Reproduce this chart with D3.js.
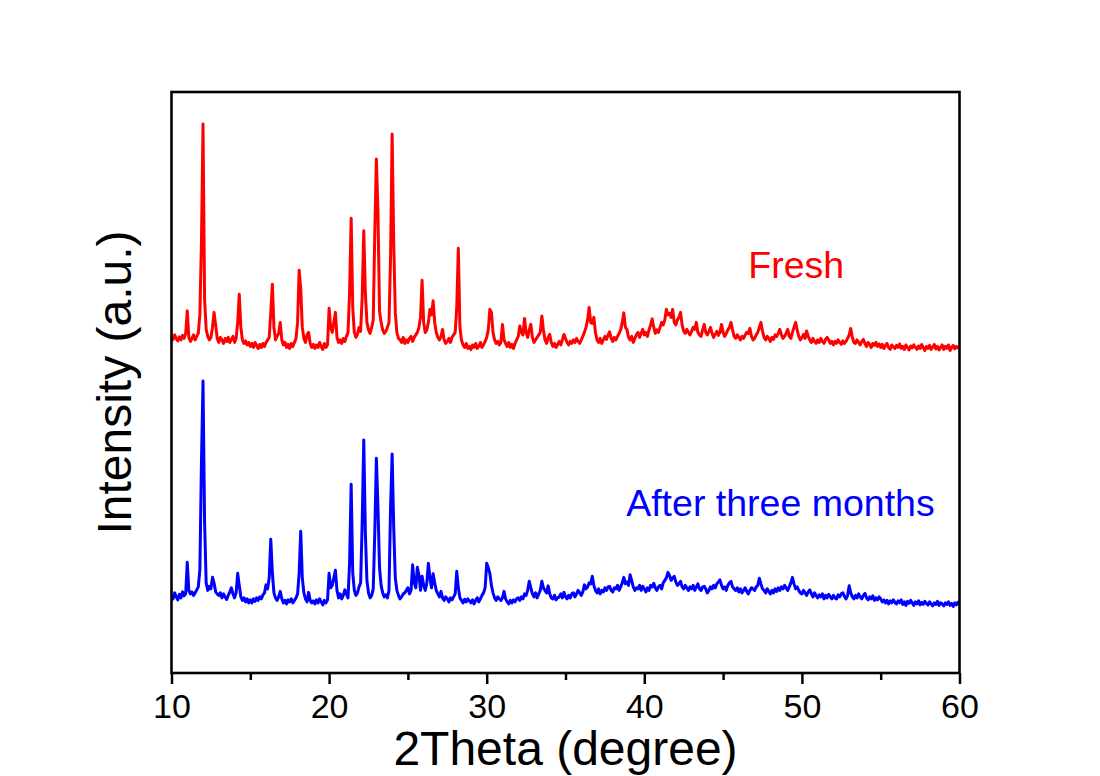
<!DOCTYPE html>
<html>
<head>
<meta charset="utf-8">
<script src="https://cdn.jsdelivr.net/npm/d3@7"></script>
<style>
  html, body { margin: 0; padding: 0; background: #ffffff; }
  svg { display: block; font-family: "Liberation Sans", Arial, sans-serif; }
</style>
</head>
<body>
<svg id="chart" width="1100" height="776"></svg>
<script>
// XRD patterns, sampled every 0.1 degree from 10.0 to 60.0 (2θ), intensity in a.u.
const twoThetaStart = 10.0;
const twoThetaStep = 0.1;

const freshIntensity = [
  172,166,175,168,163,171,165,174,168,178,
  223,170,162,168,175,165,172,178,216,360,
  596,246,186,172,165,170,190,220,195,168,
  160,170,165,158,168,162,170,160,166,172,
  160,168,200,256,190,165,158,163,155,160,
  152,158,150,160,154,148,156,150,158,152,
  160,165,170,220,276,190,165,172,178,200,
  165,155,160,150,156,148,158,152,160,168,
  200,304,266,190,168,160,175,180,158,150,
  156,148,155,150,160,152,146,158,150,156,
  228,190,180,200,220,170,160,165,158,168,
  162,172,180,260,408,230,180,170,176,190,
  182,250,383,260,200,185,178,190,205,380,
  526,420,222,200,185,178,182,190,200,330,
  576,360,220,180,168,165,160,170,158,165,
  160,168,172,162,170,175,180,190,210,284,
  200,180,185,200,226,215,243,200,180,170,
  165,172,186,165,158,162,168,160,170,175,
  180,230,348,190,165,155,150,158,148,152,
  146,155,150,158,148,152,160,150,155,162,
  170,185,226,220,180,165,158,162,155,160,
  196,165,158,152,160,150,156,148,158,165,
  172,193,180,175,208,180,170,185,196,170,
  160,165,170,175,180,213,185,165,158,170,
  176,160,152,158,150,156,162,155,165,176,
  168,160,155,162,158,165,160,168,162,158,
  165,172,180,190,205,230,200,198,210,180,
  165,160,168,158,165,172,166,175,181,168,
  162,170,165,172,178,185,200,219,190,186,
  170,165,172,160,168,175,180,170,178,186,
  175,180,172,185,195,207,190,178,185,180,
  190,200,195,205,226,215,218,210,226,200,
  195,205,210,220,195,182,178,186,180,175,
  182,190,186,200,180,175,172,185,196,180,
  175,182,190,178,170,176,182,174,180,196,
  180,172,178,185,190,200,185,172,168,175,
  170,165,172,168,175,180,178,188,172,165,
  168,175,180,190,200,182,170,165,172,168,
  162,170,166,175,172,178,186,175,168,172,
  178,186,172,168,180,190,200,185,172,165,
  170,176,168,183,172,165,160,168,162,158,
  165,160,168,162,158,166,170,165,158,162,
  155,162,158,165,160,156,163,158,162,168,
  175,188,170,160,158,165,160,155,162,166,
  158,152,160,156,150,158,154,160,152,157,
  150,156,148,154,158,150,146,155,151,148,
  154,150,157,148,152,146,155,150,145,153,
  149,155,150,146,153,148,156,150,144,152,
  148,154,146,151,156,147,152,145,150,155,
  146,152,148,155,144,150,154,147,152,149,
  151
];

const agedIntensity = [
  155,148,160,152,146,157,150,162,154,158,
  221,165,158,162,155,160,166,172,206,420,
  583,300,180,165,173,168,191,180,162,158,
  155,160,150,158,152,147,155,162,170,158,
  150,160,199,175,152,145,150,142,148,140,
  146,140,148,143,150,145,152,148,156,160,
  176,168,190,267,200,160,150,145,152,163,
  148,140,145,138,146,142,148,140,145,150,
  158,200,283,190,160,148,142,161,145,140,
  144,138,146,140,148,142,136,145,140,146,
  199,170,175,190,205,165,150,158,148,155,
  166,158,150,220,377,200,165,155,160,172,
  180,300,465,280,185,160,150,155,168,280,
  429,330,210,175,160,152,156,150,165,330,
  437,290,190,165,155,148,152,158,160,165,
  170,158,165,216,180,170,211,195,165,193,
  175,165,180,219,190,170,198,180,165,158,
  152,163,150,145,152,148,142,150,146,152,
  158,203,170,150,145,140,147,142,148,144,
  140,146,138,145,150,142,148,155,160,170,
  219,210,199,175,160,150,145,152,148,145,
  150,163,148,142,138,145,140,146,142,148,
  150,145,152,148,158,155,165,183,170,158,
  152,160,150,158,165,183,170,165,160,174,
  158,150,148,155,146,150,152,158,150,161,
  152,148,155,150,158,160,152,158,165,160,
  155,162,176,168,172,180,178,193,175,165,
  160,168,158,165,162,170,165,172,173,165,
  162,170,168,175,165,172,180,191,178,182,
  175,196,185,172,165,170,168,175,165,173,
  168,162,170,165,175,172,179,170,165,172,
  175,168,180,185,190,201,195,185,190,193,
  182,175,178,183,172,168,175,170,165,172,
  168,175,165,172,178,168,165,172,173,168,
  160,165,172,168,175,170,178,182,186,175,
  168,172,165,175,180,183,172,168,165,170,
  162,168,160,165,170,163,158,165,170,168,
  165,172,175,189,178,168,165,160,168,163,
  158,165,160,168,163,170,165,172,168,175,
  170,165,172,180,191,178,168,172,165,160,
  158,165,160,155,162,166,158,152,160,155,
  150,156,152,158,148,155,150,157,152,148,
  155,150,148,156,152,158,160,153,148,155,
  174,160,152,148,155,150,158,152,148,155,
  159,150,146,152,148,154,145,150,146,152,
  148,142,146,140,145,138,144,140,146,141,
  138,144,140,146,137,142,135,143,139,145,
  140,135,142,138,144,136,141,137,143,139,
  136,142,138,134,140,137,143,135,140,138,
  134,140,137,142,135,139,133,140,136,141,
  137
];

// Vertical stacking offset for the upper pattern
const freshOffset = 500;

const seriesNames = ["Fresh", "After three months"];
const seriesColors = ["#ff0000", "#0000ff"];

const xMajorTicks = [10, 20, 30, 40, 50, 60];
const xMinorTicks = [15, 25, 35, 45, 55];
const xDomain = [10, 60];
const yDomain = [0, 1160];

const svg = d3.select("#chart");
const margin = { left: 171.5, right: 140.5, top: 92, bottom: 103 };
const W = 1100, H = 776;
const plotW = W - margin.left - margin.right;
const plotH = H - margin.top - margin.bottom;

const x = d3.scaleLinear().domain(xDomain).range([margin.left, margin.left + plotW]);
const y = d3.scaleLinear().domain(yDomain).range([margin.top + plotH, margin.top]);

svg.append("rect").attr("width", W).attr("height", H).attr("fill", "#ffffff");

const toPoints = (vals, offset) =>
  vals.map((v, i) => ({ t: twoThetaStart + i * twoThetaStep, v: v + offset }));

const datasets = [
  toPoints(freshIntensity, freshOffset),
  toPoints(agedIntensity, 0)
];

const line = d3.line()
  .x(d => x(d.t))
  .y(d => y(d.v));

svg.append("defs").append("clipPath").attr("id", "plotClip")
  .append("rect")
  .attr("x", margin.left).attr("y", margin.top)
  .attr("width", plotW).attr("height", plotH);

const lines = svg.append("g").attr("clip-path", "url(#plotClip)");
datasets.forEach((pts, i) => {
  lines.append("path")
    .datum(pts)
    .attr("fill", "none")
    .attr("stroke", seriesColors[i])
    .attr("stroke-width", 3)
    .attr("stroke-linejoin", "round")
    .attr("d", line);
});

// Bottom axis: major and minor ticks pointing outward
const axisG = svg.append("g")
  .attr("transform", `translate(0,${margin.top + plotH})`);

const minorAxis = d3.axisBottom(x).tickValues(xMinorTicks).tickSize(7).tickFormat("");
const majorAxis = d3.axisBottom(x).tickValues(xMajorTicks).tickSize(11).tickPadding(10)
  .tickFormat(d3.format("d"));

axisG.append("g").call(minorAxis)
  .call(g => g.select(".domain").remove())
  .call(g => g.selectAll("line").attr("stroke", "#000").attr("stroke-width", 2.5));

axisG.append("g").call(majorAxis)
  .call(g => g.select(".domain").remove())
  .call(g => g.selectAll("line").attr("stroke", "#000").attr("stroke-width", 2.5))
  .call(g => g.selectAll("text")
    .attr("fill", "#000")
    .style("font-size", "34px")
    .style("font-family", "'Liberation Sans', Arial, sans-serif"));

// Plot frame
svg.append("rect")
  .attr("x", margin.left).attr("y", margin.top)
  .attr("width", plotW).attr("height", plotH)
  .attr("fill", "none")
  .attr("stroke", "#000")
  .attr("stroke-width", 2.6);

// Axis titles
svg.append("text")
  .attr("x", margin.left + plotW / 2)
  .attr("y", 765)
  .attr("text-anchor", "middle")
  .style("font-size", "48px")
  .attr("fill", "#000")
  .text("2Theta (degree)");

svg.append("text")
  .attr("transform", `translate(131,${margin.top + plotH / 2}) rotate(-90)`)
  .attr("text-anchor", "middle")
  .style("font-size", "48px")
  .attr("fill", "#000")
  .text("Intensity (a.u.)");

// Series labels
const labelPos = [
  { t: 46.6, v: freshOffset + 1346 - 2 * 279 - 500 },
  { t: 38.85, v: 1346 - 2 * 516 }
];
seriesNames.forEach((name, i) => {
  svg.append("text")
    .attr("x", x(labelPos[i].t))
    .attr("y", y(labelPos[i].v))
    .style("font-size", "37.5px")
    .attr("fill", seriesColors[i])
    .text(name);
});
</script>
</body>
</html>
